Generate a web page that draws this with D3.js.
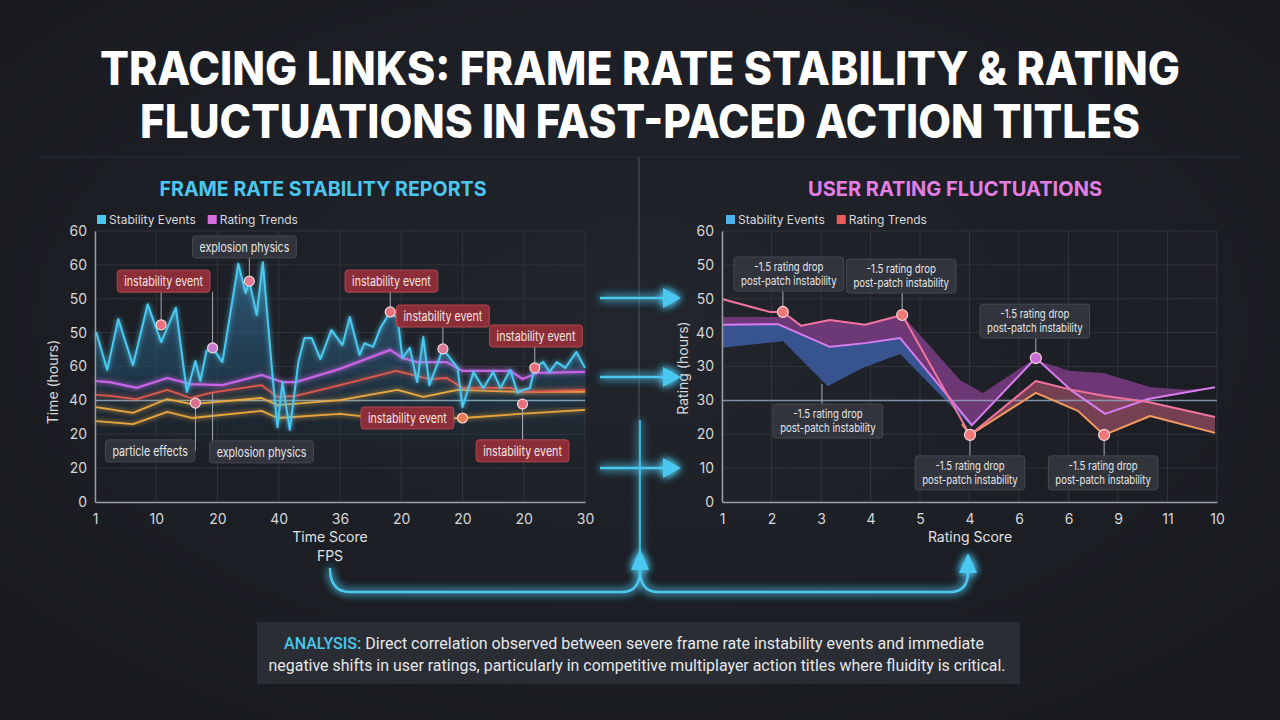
<!DOCTYPE html>
<html>
<head>
<meta charset="utf-8">
<script src="https://cdn.jsdelivr.net/npm/d3@7"></script>
<style>
  html, body { margin: 0; padding: 0; background: #1c1e24; }
  svg { display: block; font-family: Inter, "Noto Sans", sans-serif; }
</style>
</head>
<body>
<div id="chart"></div>
<script>
// ---- data ----
const leftXLabels = ['1', '10', '20', '40', '36', '20', '20', '20', '30']
const leftYLabels = ['0', '20', '20', '40', '60', '50', '50', '60', '60']
const rightXLabels = ['1', '2', '3', '4', '5', '4', '6', '6', '9', '11', '10']
const rightYLabels = ['0', '10', '20', '30', '30', '40', '50', '50', '60']

// left chart: [time index, value]
const stabilityEvents = [
  [0.1, 50.2], [1.0, 39.0], [1.9, 54.0], [3.1, 40.4], [4.3, 58.4], [5.4, 47.2],
  [6.6, 57.3], [7.5, 32.5], [8.2, 41.6], [8.6, 35.7], [9.1, 44.6], [9.6, 45.5],
  [10.4, 41.3], [11.7, 70.3], [12.3, 61.7], [12.6, 65.2], [13.2, 55.2], [13.7, 70.8],
  [14.5, 36.9], [14.9, 22.1], [15.3, 35.4], [15.9, 21.3], [16.6, 41.3], [17.1, 48.4],
  [17.7, 48.4], [18.4, 42.2], [19.3, 50.8], [20.2, 46.3], [20.8, 54.6], [21.6, 43.4],
  [22.0, 46.9], [22.7, 45.8], [23.3, 51.4], [24.1, 56.1], [24.7, 54.3], [25.1, 42.5],
  [25.7, 45.5], [26.3, 35.4], [26.8, 48.7], [27.3, 34.5], [28.4, 45.2], [29.6, 39.6],
  [30.0, 28.0], [30.9, 38.4], [31.7, 33.6], [32.5, 38.4], [33.1, 33.6], [33.9, 39.0],
  [34.5, 32.2], [34.9, 33.1], [35.5, 33.6], [35.9, 39.6], [36.6, 41.3], [37.1, 38.4],
  [37.7, 41.3], [38.4, 39.6], [39.3, 44.3], [40.0, 39.6]
]
const ratingTrendLeft = [
  [0.1, 35.7], [1.2, 35.4], [3.4, 33.7], [5.9, 36.6], [7.8, 34.8], [10.4, 34.5],
  [13.6, 37.5], [15.3, 35.4], [16.4, 35.4], [20.0, 39.3], [24.1, 44.9], [25.1, 42.5],
  [26.3, 41.3], [28.7, 41.3], [30.0, 38.7], [33.9, 38.7], [34.9, 36.3], [36.1, 38.1], [40.0, 38.4]
]
const redTrendLeft = [
  [0.1, 31.6], [1.2, 31.3], [3.4, 30.4], [5.9, 33.1], [7.8, 30.7], [9.4, 32.2],
  [13.6, 34.5], [14.9, 31.0], [16.4, 31.3], [20.0, 34.5], [24.6, 38.7], [27.3, 36.3],
  [28.7, 36.6], [30.0, 33.7], [33.9, 33.7], [34.9, 32.5], [40.0, 33.1]
]
const yellowUpper = [
  [0.1, 28.0], [3.1, 26.3], [5.9, 30.4], [7.9, 28.9], [13.6, 30.7], [14.9, 28.6],
  [20.0, 30.1], [24.7, 33.1], [26.8, 31.0], [29.6, 33.1], [34.7, 32.5], [40.0, 32.5]
]
const yellowLower = [
  [0.1, 23.9], [3.1, 23.0], [5.9, 26.6], [7.9, 24.8], [13.6, 26.9], [14.9, 24.8],
  [20.0, 26.0], [24.7, 24.2], [30.0, 24.8], [34.7, 26.0], [40.0, 27.2]
]
const leftRefValue = 30

const leftNotes = [
  { t: 5.4, v: 52.3, lt: 5.6, lv: 65.2, text: 'instability event', kind: 'red', dot: '#e8707a' },
  { t: 12.6, v: 65.2, lt: 12.2, lv: 75.3, text: 'explosion physics', kind: 'gray', dot: '#e07890' },
  { t: 9.6, v: 45.5, lt: 9.6, lv: 62.0, text: null, dot: '#c47ad0' },
  { t: 8.2, v: 29.2, lt: 4.5, lv: 15.1, text: 'particle effects', kind: 'gray', dot: '#d9708e' },
  { t: 9.6, v: 32.2, lt: 13.6, lv: 14.8, text: 'explosion physics', kind: 'gray', dot: null },
  { t: 24.1, v: 56.1, lt: 24.2, lv: 65.2, text: 'instability event', kind: 'red', dot: '#e8707a' },
  { t: 28.4, v: 45.2, lt: 28.4, lv: 54.9, text: 'instability event', kind: 'red', dot: '#d77a9a' },
  { t: 35.9, v: 39.6, lt: 36.0, lv: 49.0, text: 'instability event', kind: 'red', dot: '#e8707a' },
  { t: 30.0, v: 24.8, lt: 25.5, lv: 24.8, text: 'instability event', kind: 'red', dot: '#ee7a50' },
  { t: 34.9, v: 28.9, lt: 34.9, lv: 15.1, text: 'instability event', kind: 'red', dot: '#e8707a' }
]

// right chart: [rating score, value]
const ratingTrendRight = [
  [1.0, 59.9], [1.97, 56.1], [2.23, 56.1], [2.6, 52.0], [3.18, 53.7], [3.89, 52.3],
  [4.64, 55.2], [6.01, 19.8], [7.34, 35.7], [8.07, 33.1], [8.74, 31.3], [9.61, 29.5], [10.96, 25.1]
]
const violetRight = [
  [1.0, 52.3], [2.13, 52.5], [3.18, 45.8], [3.89, 46.9], [4.6, 48.4], [6.05, 22.7],
  [7.34, 42.5], [8.07, 32.8], [8.74, 26.0], [9.61, 30.4], [10.96, 33.9]
]
const orangeRight = [
  [5.85, 23.0], [6.01, 19.8], [7.34, 32.2], [8.19, 26.9], [8.72, 19.8], [9.65, 25.4], [10.96, 20.4]
]
const purpleUpper = [
  [1.0, 54.6], [2.13, 54.6], [2.23, 55.8], [2.6, 52.0], [3.18, 53.7], [3.89, 52.3],
  [4.64, 55.2], [5.81, 36.0], [6.27, 32.2], [7.34, 42.5], [7.46, 41.3], [8.03, 38.7],
  [8.7, 38.1], [9.65, 33.9], [10.39, 33.1], [10.96, 33.7]
]
const blueLower = [
  [1.0, 45.5], [2.23, 47.5], [3.14, 34.2], [3.85, 39.6], [4.6, 43.7], [6.05, 22.1]
]
const rightRefValue = 30

const rightNotes = [
  { u: 2.23, v: 56.1, lu: 2.35, lv: 67.3, dot: '#f07878' },
  { u: 4.64, v: 55.2, lu: 4.62, lv: 66.7, dot: '#f07878' },
  { u: 7.34, v: 42.5, lu: 7.32, lv: 53.4, dot: '#c86ad8' },
  { u: 3.02, v: 34.8, lu: 3.14, lv: 23.9, dot: null },
  { u: 6.01, v: 19.8, lu: 6.01, lv: 8.6, dot: '#f07878' },
  { u: 8.72, v: 19.8, lu: 8.7, lv: 8.6, dot: '#f07878' }
]
const noteLines = ['-1.5 rating drop', 'post-patch instability']

const analysisLines = [
  'Direct correlation observed between severe frame rate instability events and immediate',
  'negative shifts in user ratings, particularly in competitive multiplayer action titles where fluidity is critical.'
]

// ---- setup ----
const width = 1280
const height = 720

const svg = d3.select('#chart')
  .append('svg')
  .attr('width', width)
  .attr('height', height)

const defs = svg.append('defs')

const bg = defs.append('radialGradient').attr('id', 'bg')
  .attr('cx', '50%').attr('cy', '45%').attr('r', '75%')
bg.append('stop').attr('offset', '0%').attr('stop-color', '#22252c')
bg.append('stop').attr('offset', '100%').attr('stop-color', '#17191e')

const glow = defs.append('filter').attr('id', 'glow')
  .attr('x', '-20%').attr('y', '-20%').attr('width', '140%').attr('height', '140%')
glow.append('feGaussianBlur').attr('stdDeviation', 2.5).attr('result', 'b')
const gm = glow.append('feMerge')
gm.append('feMergeNode').attr('in', 'b')
gm.append('feMergeNode').attr('in', 'SourceGraphic')

const bigGlow = defs.append('filter').attr('id', 'bigGlow')
  .attr('x', '-50%').attr('y', '-50%').attr('width', '200%').attr('height', '200%')
bigGlow.append('feGaussianBlur').attr('stdDeviation', 4).attr('result', 'b')
const bgm = bigGlow.append('feMerge')
bgm.append('feMergeNode').attr('in', 'b')
bgm.append('feMergeNode').attr('in', 'b')
bgm.append('feMergeNode').attr('in', 'SourceGraphic')

const cyanFill = defs.append('linearGradient').attr('id', 'cyanFill')
  .attr('gradientUnits', 'userSpaceOnUse')
  .attr('x1', 0).attr('y1', 255).attr('x2', 0).attr('y2', 470)
cyanFill.append('stop').attr('offset', '0%').attr('stop-color', '#3c8fc0').attr('stop-opacity', 0.55)
cyanFill.append('stop').attr('offset', '55%').attr('stop-color', '#235170').attr('stop-opacity', 0.5)
cyanFill.append('stop').attr('offset', '100%').attr('stop-color', '#1c2a38').attr('stop-opacity', 0)

svg.append('rect').attr('width', width).attr('height', height).attr('fill', 'url(#bg)')

// ---- titles ----
svg.append('text')
  .attr('x', 640).attr('y', 85)
  .attr('text-anchor', 'middle')
  .attr('fill', '#ffffff')
  .style('font-size', '46px').style('font-weight', 800)
  .attr('textLength', 1080).attr('lengthAdjust', 'spacingAndGlyphs')
  .text('TRACING LINKS: FRAME RATE STABILITY & RATING')

svg.append('text')
  .attr('x', 640).attr('y', 138)
  .attr('text-anchor', 'middle')
  .attr('fill', '#ffffff')
  .style('font-size', '46px').style('font-weight', 800)
  .attr('textLength', 1000).attr('lengthAdjust', 'spacingAndGlyphs')
  .text('FLUCTUATIONS IN FAST-PACED ACTION TITLES')

// dividers
svg.append('line').attr('x1', 40).attr('x2', 1240).attr('y1', 157).attr('y2', 157)
  .attr('stroke', '#2a2d34').attr('stroke-width', 1)
svg.append('line').attr('x1', 639).attr('x2', 639).attr('y1', 157).attr('y2', 560)
  .attr('stroke', '#41444c').attr('stroke-width', 1.5)

svg.append('text')
  .attr('x', 323).attr('y', 196).attr('text-anchor', 'middle')
  .attr('fill', '#4cc6ee')
  .style('font-size', '20px').style('font-weight', 700)
  .attr('textLength', 327).attr('lengthAdjust', 'spacingAndGlyphs')
  .text('FRAME RATE STABILITY REPORTS')

svg.append('text')
  .attr('x', 955).attr('y', 196).attr('text-anchor', 'middle')
  .attr('fill', '#e47ee4')
  .style('font-size', '20px').style('font-weight', 700)
  .attr('textLength', 294).attr('lengthAdjust', 'spacingAndGlyphs')
  .text('USER RATING FLUCTUATIONS')

// ---- helpers ----
function interp(series, u) {
  if (u <= series[0][0]) return series[0][1]
  for (let i = 0; i < series.length - 1; i++) {
    const a = series[i], b = series[i + 1]
    if (u >= a[0] && u <= b[0]) return a[1] + (b[1] - a[1]) * (u - a[0]) / (b[0] - a[0])
  }
  return series[series.length - 1][1]
}

function drawGrid(g, x, y, xTicks, yTicks) {
  g.append('g').selectAll('line.vx').data(xTicks).enter().append('line')
    .attr('x1', d => x(d)).attr('x2', d => x(d))
    .attr('y1', y.range()[1]).attr('y2', y.range()[0])
    .attr('stroke', '#30333a').attr('stroke-width', 1)
  g.append('g').selectAll('line.hy').data(yTicks).enter().append('line')
    .attr('x1', x.range()[0]).attr('x2', x.range()[1])
    .attr('y1', d => y(d)).attr('y2', d => y(d))
    .attr('stroke', '#30333a').attr('stroke-width', 1)
}

function drawAxes(g, x, y, xTicks, yTicks, xLabels, yLabels) {
  const xAxis = d3.axisBottom(x).tickValues(xTicks)
    .tickFormat((d, i) => xLabels[i]).tickSize(0).tickPadding(12)
  const yAxis = d3.axisLeft(y).tickValues(yTicks)
    .tickFormat((d, i) => yLabels[i]).tickSize(0).tickPadding(8)
  const ax = g.append('g').attr('transform', `translate(0,${y.range()[0]})`).call(xAxis)
  const ay = g.append('g').attr('transform', `translate(${x.range()[0]},0)`).call(yAxis)
  for (const a of [ax, ay]) {
    a.select('.domain').attr('stroke', '#9a9da4').attr('stroke-width', 1.5)
    a.selectAll('text').attr('fill', '#d6d7da').style('font-size', '14px')
      .style('font-family', 'Inter, sans-serif')
  }
}

function legend(g, x0, y0, items) {
  let x = x0
  items.forEach(it => {
    g.append('rect').attr('x', x).attr('y', y0 - 5).attr('width', 9).attr('height', 9)
      .attr('fill', it.color)
    const t = g.append('text').attr('x', x + 12).attr('y', y0 + 4)
      .attr('fill', '#d8d9dc').style('font-size', '12px').text(it.label)
    x += 12 + t.node().getComputedTextLength() + 12
  })
}

// label box; text squeezed a little to match the narrow lettering of the source
function noteBox(g, cx, cy, lines, kind, fs, squeeze) {
  const grp = g.append('g')
  const texts = lines.map((s, i) => {
    const t = grp.append('text')
      .attr('x', cx)
      .attr('y', cy + (i - (lines.length - 1) / 2) * (fs + 2) + fs * 0.36)
      .attr('text-anchor', 'middle')
      .attr('fill', kind === 'red' ? '#f3e3e3' : '#e4e5e8')
      .style('font-size', fs + 'px')
      .text(s)
    const len = t.node().getComputedTextLength() * squeeze
    t.attr('textLength', len).attr('lengthAdjust', 'spacingAndGlyphs')
    return len
  })
  const w = d3.max(texts) + 14
  const h = lines.length === 1 ? 22 : 34
  grp.insert('rect', 'text')
    .attr('x', cx - w / 2).attr('y', cy - h / 2)
    .attr('width', w).attr('height', h).attr('rx', 3)
    .attr('fill', kind === 'red' ? '#8c2e37' : '#33363d')
    .attr('fill-opacity', kind === 'red' ? 1 : 0.95)
    .attr('stroke', kind === 'red' ? '#b44850' : '#464951')
    .attr('stroke-width', 1)
}

// ---- left chart ----
const lx = d3.scaleLinear().domain([0, 40]).range([95, 585])
const ly = d3.scaleLinear().domain([0, 80]).range([502, 231])
const leftXTicks = d3.range(0, 41, 5)
const yTicks = d3.range(0, 81, 10)

const left = svg.append('g')
drawGrid(left, lx, ly, leftXTicks, yTicks)

left.append('path')
  .datum(stabilityEvents)
  .attr('d', d3.area().x(d => lx(d[0])).y0(ly(0)).y1(d => ly(d[1])))
  .attr('fill', 'url(#cyanFill)')

left.append('line')
  .attr('x1', lx(0)).attr('x2', lx(40))
  .attr('y1', ly(leftRefValue)).attr('y2', ly(leftRefValue))
  .attr('stroke', '#9cc4d4').attr('stroke-opacity', 0.75).attr('stroke-width', 1.5)

const leftLine = d3.line().x(d => lx(d[0])).y(d => ly(d[1]))
const leftSeries = [
  { data: yellowLower, color: '#e8a53c', w: 1.8 },
  { data: yellowUpper, color: '#eaa940', w: 1.8 },
  { data: redTrendLeft, color: '#e0584c', w: 1.8 },
  { data: ratingTrendLeft, color: '#c864e4', w: 2.2 },
  { data: stabilityEvents, color: '#4cc8f0', w: 2 }
]
left.selectAll('path.series').data(leftSeries).enter().append('path')
  .attr('d', d => leftLine(d.data))
  .attr('fill', 'none')
  .attr('stroke', d => d.color)
  .attr('stroke-width', d => d.w)
  .attr('stroke-linejoin', 'round')
  .attr('filter', 'url(#glow)')

drawAxes(left, lx, ly, leftXTicks, yTicks, leftXLabels, leftYLabels)

legend(left, 97, 220, [
  { color: '#4cc6ee', label: 'Stability Events' },
  { color: '#d66ee0', label: 'Rating Trends' }
])

left.selectAll('path.leader').data(leftNotes).enter().append('path')
  .attr('d', d => `M${lx(d.t)},${ly(d.v)}L${lx(d.t)},${ly(d.lv)}L${lx(d.lt)},${ly(d.lv)}`)
  .attr('fill', 'none').attr('stroke', '#a8abb2').attr('stroke-width', 1)

leftNotes.filter(d => d.text).forEach(d => {
  noteBox(left, lx(d.lt), ly(d.lv), [d.text], d.kind, 13, 0.82)
})

left.selectAll('circle.dot').data(leftNotes.filter(d => d.dot)).enter().append('circle')
  .attr('cx', d => lx(d.t)).attr('cy', d => ly(d.v)).attr('r', 5)
  .attr('fill', d => d.dot).attr('stroke', '#f4d6dc').attr('stroke-width', 1.2)

left.append('text').attr('x', 330).attr('y', 542).attr('text-anchor', 'middle')
  .attr('fill', '#e0e1e4').style('font-size', '14px').text('Time Score')
left.append('text').attr('x', 330).attr('y', 561).attr('text-anchor', 'middle')
  .attr('fill', '#e0e1e4').style('font-size', '14px').text('FPS')
left.append('text')
  .attr('transform', 'translate(58,382) rotate(-90)')
  .attr('text-anchor', 'middle')
  .attr('fill', '#d6d7da').style('font-size', '14px').text('Time (hours)')

// ---- right chart ----
const rx = d3.scaleLinear().domain([1, 11]).range([722, 1217])
const ry = d3.scaleLinear().domain([0, 80]).range([502, 231])
const rightXTicks = d3.range(1, 12, 1)

const right = svg.append('g')
drawGrid(right, rx, ry, rightXTicks, yTicks)

const unionX = (a, b, lo, hi) => Array.from(new Set(a.map(d => d[0]).concat(b.map(d => d[0]))))
  .filter(u => u >= lo && u <= hi).sort((p, q) => p - q)

const band = d3.area().x(d => rx(d.u)).y0(d => ry(d.lo)).y1(d => ry(d.hi))

const purpleBand = unionX(purpleUpper, violetRight, 1, 10.96)
  .map(u => ({ u, lo: interp(violetRight, u), hi: interp(purpleUpper, u) }))
const blueBand = unionX(blueLower, violetRight, 1, 6.05)
  .map(u => ({ u, lo: interp(blueLower, u), hi: interp(violetRight, u) }))
const brownBand = unionX(orangeRight, ratingTrendRight, 5.85, 10.96)
  .map(u => ({ u, lo: interp(orangeRight, u), hi: interp(ratingTrendRight, u) }))

right.append('path').datum(purpleBand).attr('d', band)
  .attr('fill', '#7a3c82').attr('fill-opacity', 0.85)
right.append('path').datum(blueBand).attr('d', band)
  .attr('fill', '#3a5a9c').attr('fill-opacity', 0.9)
right.append('path').datum(brownBand).attr('d', band)
  .attr('fill', '#84475a').attr('fill-opacity', 0.85)

right.append('line')
  .attr('x1', rx(1)).attr('x2', rx(11))
  .attr('y1', ry(rightRefValue)).attr('y2', ry(rightRefValue))
  .attr('stroke', '#93a8c4').attr('stroke-opacity', 0.8).attr('stroke-width', 1.5)

const rightLine = d3.line().x(d => rx(d[0])).y(d => ry(d[1]))
const rightSeries = [
  { data: orangeRight, color: '#f39a5e' },
  { data: violetRight, color: '#d87cf0' },
  { data: ratingTrendRight, color: '#f2739e' }
]
right.selectAll('path.series').data(rightSeries).enter().append('path')
  .attr('d', d => rightLine(d.data))
  .attr('fill', 'none')
  .attr('stroke', d => d.color)
  .attr('stroke-width', 2)
  .attr('stroke-linejoin', 'round')

drawAxes(right, rx, ry, rightXTicks, yTicks, rightXLabels, rightYLabels)

legend(right, 726, 220, [
  { color: '#4cb4ea', label: 'Stability Events' },
  { color: '#e85c5c', label: 'Rating Trends' }
])

right.selectAll('path.leader').data(rightNotes).enter().append('path')
  .attr('d', d => `M${rx(d.u)},${ry(d.v)}L${rx(d.u)},${ry(d.lv)}L${rx(d.lu)},${ry(d.lv)}`)
  .attr('fill', 'none').attr('stroke', '#a8abb2').attr('stroke-width', 1)

rightNotes.forEach(d => noteBox(right, rx(d.lu), ry(d.lv), noteLines, 'gray', 12, 0.8))

right.selectAll('circle.dot').data(rightNotes.filter(d => d.dot)).enter().append('circle')
  .attr('cx', d => rx(d.u)).attr('cy', d => ry(d.v)).attr('r', 5.5)
  .attr('fill', d => d.dot).attr('stroke', '#f6d8dc').attr('stroke-width', 1.2)

right.append('text').attr('x', 970).attr('y', 542).attr('text-anchor', 'middle')
  .attr('fill', '#e0e1e4').style('font-size', '14px').text('Rating Score')
right.append('text')
  .attr('transform', 'translate(688,368) rotate(-90)')
  .attr('text-anchor', 'middle')
  .attr('fill', '#d6d7da').style('font-size', '14px').text('Rating (hours)')

// ---- connectors ----
const conn = svg.append('g').attr('filter', 'url(#bigGlow)')
const cyan = '#4cc8f0'

;[298, 377, 468].forEach(y => {
  conn.append('line').attr('x1', 600).attr('x2', 666).attr('y1', y).attr('y2', y)
    .attr('stroke', cyan).attr('stroke-width', 2.5)
  conn.append('path').attr('d', `M663,${y - 10}L681,${y}L663,${y + 10}Z`).attr('fill', cyan)
})

conn.append('line').attr('x1', 640).attr('x2', 640).attr('y1', 420).attr('y2', 560)
  .attr('stroke', cyan).attr('stroke-width', 2).attr('stroke-opacity', 0.8)
conn.append('path')
  .attr('d', 'M330,568 Q330,592 350,592 L622,592 Q640,592 640,570 Q640,592 658,592 L950,592 Q968,592 968,572')
  .attr('fill', 'none').attr('stroke', cyan).attr('stroke-width', 2.5)
conn.append('path').attr('d', 'M631,570L640,549L649,570Z').attr('fill', cyan)
conn.append('path').attr('d', 'M959,573L968,553L977,573Z').attr('fill', cyan)

// ---- analysis box ----
svg.append('rect').attr('x', 257).attr('y', 622).attr('width', 763).attr('height', 62)
  .attr('fill', '#2a2d34')

const a1 = svg.append('text').attr('x', 634).attr('y', 649).attr('text-anchor', 'middle')
  .style('font-family', 'Roboto, sans-serif').style('font-size', '17px')
  .attr('textLength', 700).attr('lengthAdjust', 'spacingAndGlyphs')
a1.append('tspan').attr('fill', '#4cc6ee').style('font-weight', 500).text('ANALYSIS: ')
a1.append('tspan').attr('fill', '#e6e7ea').text(analysisLines[0])

svg.append('text').attr('x', 637).attr('y', 671).attr('text-anchor', 'middle')
  .style('font-family', 'Roboto, sans-serif').style('font-size', '17px')
  .attr('fill', '#e6e7ea')
  .attr('textLength', 737).attr('lengthAdjust', 'spacingAndGlyphs')
  .text(analysisLines[1])
</script>
</body>
</html>
